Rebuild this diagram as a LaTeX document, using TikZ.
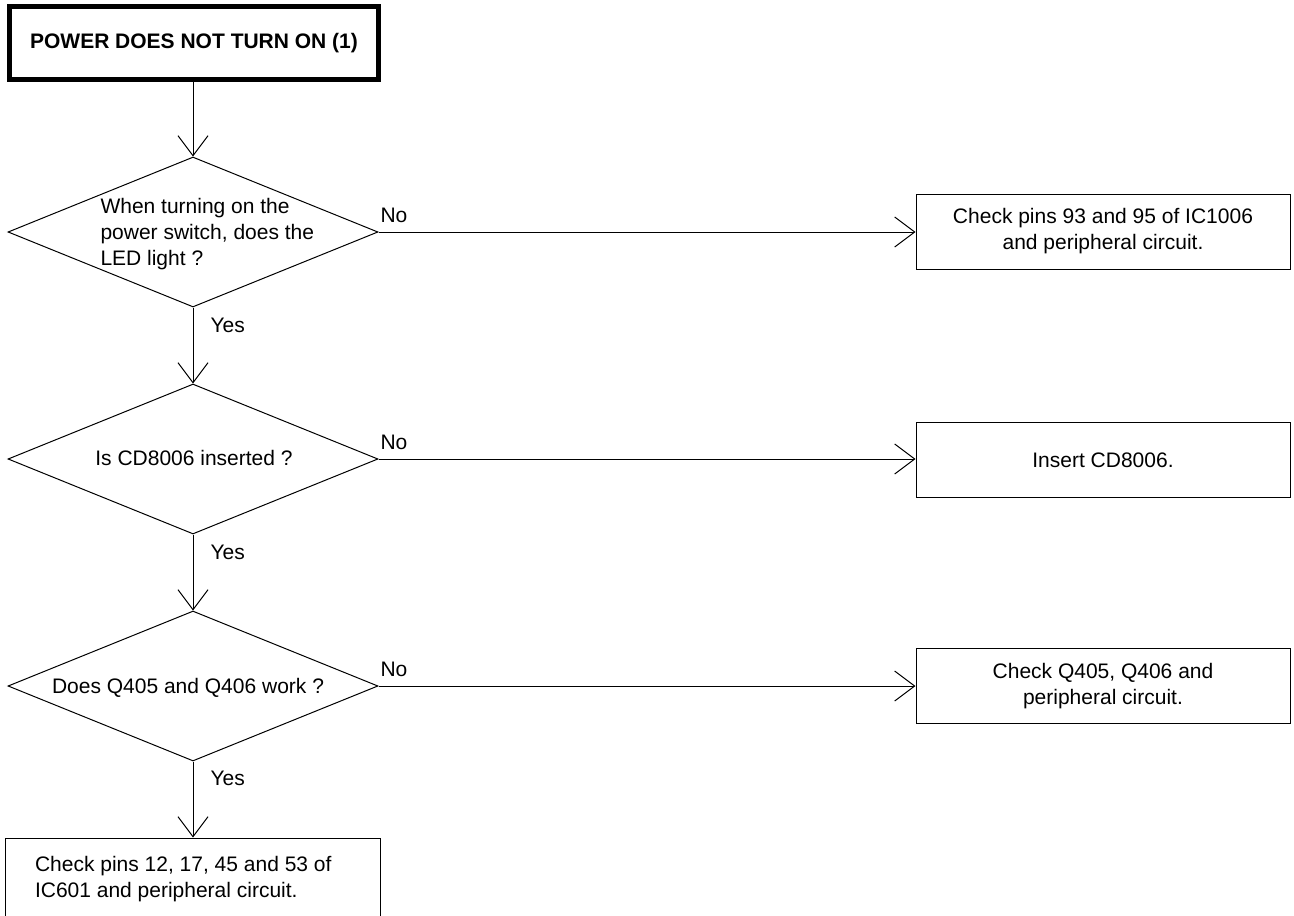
\documentclass[tikz,border=0pt]{standalone}
\usepackage{fontspec}
\setmainfont{Liberation Sans}
\usetikzlibrary{arrows.meta,shapes.geometric}
\begin{document}
\begin{tikzpicture}[x=1pt,y=-1pt,
  line width=1pt,
  every node/.style={font=\fontsize{21}{26}\selectfont},
  dec/.style={draw,diamond,minimum width=370pt,minimum height=150pt,inner sep=0pt},
  act/.style={draw,rectangle,minimum width=374pt,minimum height=75pt,align=center,inner sep=0pt},
  title/.style={draw,rectangle,line width=5pt,minimum width=369pt,minimum height=73pt,inner sep=0pt,font=\fontsize{21}{26}\selectfont\bfseries},
  flow/.style={-{Straight Barb[length=20pt,width=30pt]}},
  lbl/.style={anchor=west,inner sep=0pt}]
\useasboundingbox (0,0) rectangle (1294,916);

\node[title] (t) at (194,43) {POWER DOES NOT TURN ON (1)};

\node[dec] (d1) at (193,232) {};
\node[lbl,align=left] (d1t) at (100,234) {When turning on the\\power switch, does the\\LED light ?};
\node[dec] (d2) at (193,459) {};
\node[inner sep=0pt] (d2t) at (194,458) {Is CD8006 inserted ?};
\node[dec] (d3) at (193,686) {};
\node[inner sep=0pt] (d3t) at (188,688) {Does Q405 and Q406 work ?};

\node[act] (b1) at (1103,231.5) {Check pins 93 and 95 of IC1006\\and peripheral circuit.};
\node[act] (b2) at (1103,460) {Insert CD8006.};
\node[act] (b3) at (1103,686) {Check Q405, Q406 and\\peripheral circuit.};

\node[draw,rectangle,minimum width=375pt,minimum height=82pt,text width=315pt,align=flush left,inner xsep=30pt,inner ysep=0pt] (b4) at (192.5,879) {Check pins 12, 17, 45 and 53 of\\IC601 and peripheral circuit.};

\draw[flow] (t.south -| d1.north) -- (d1.north);
\draw[flow] (d1.south) -- (d2.north);
\draw[flow] (d2.south) -- (d3.north);
\draw[flow] (d3.south) -- (d3.south |- b4.north);
\draw[flow] (d1.east) -- (d1.east -| b1.west);
\draw[flow] (d2.east) -- (d2.east -| b2.west);
\draw[flow] (d3.east) -- (d3.east -| b3.west);

\node[lbl] (n1) at (380,215) {No};
\node[lbl] (n2) at (380,442) {No};
\node[lbl] (n3) at (380,669) {No};
\node[lbl] (y1) at (210,325) {Yes};
\node[lbl] (y2) at (210,552) {Yes};
\node[lbl] (y3) at (210,778) {Yes};
\end{tikzpicture}
\end{document}
